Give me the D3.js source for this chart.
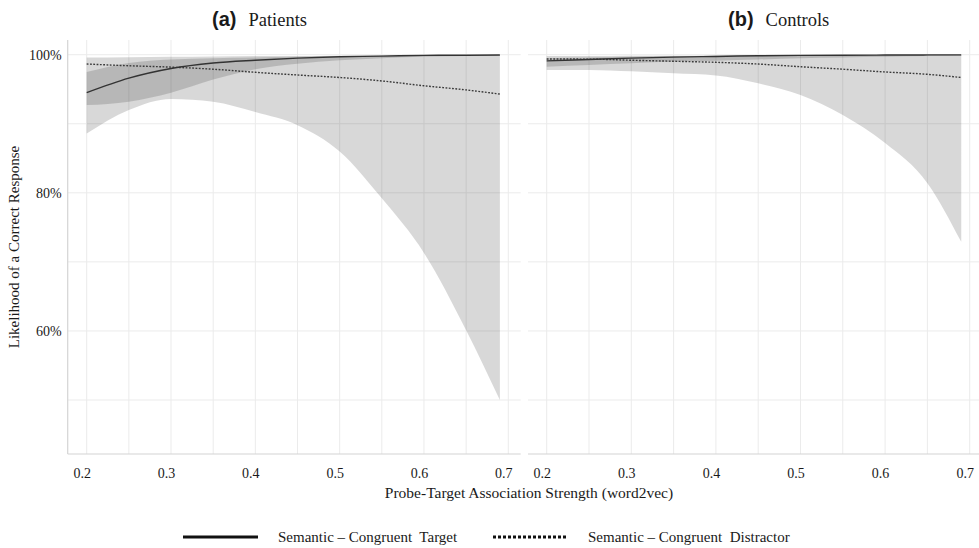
<!DOCTYPE html>
<html>
<head>
<meta charset="utf-8">
<script src="https://cdn.jsdelivr.net/npm/d3@7"></script>
<style>
  html, body { margin: 0; padding: 0; background: #ffffff; }
  svg { display: block; }
  text { font-family: "Liberation Serif", "Times New Roman", serif; fill: #1a1a1a; }
</style>
</head>
<body>
<svg id="chart" width="979" height="548"></svg>
<script>
// ---------------- data ----------------
const strength = [0.2, 0.25, 0.3, 0.35, 0.4, 0.45, 0.5, 0.55, 0.6, 0.65, 0.69];

// (a) Patients
const patTargetFit   = [0.945, 0.966, 0.980, 0.988, 0.992, 0.995, 0.997, 0.998, 0.999, 0.9993, 0.9995];
const patTargetLow   = [0.927, 0.932, 0.945, 0.964, 0.979, 0.987, 0.992, 0.995, 0.997, 0.998, 0.9985];
const patTargetHigh  = [0.975, 0.988, 0.993, 0.995, 0.996, 0.997, 0.998, 0.999, 0.9992, 0.9995, 0.9997];
const patDistrFit    = [0.9865, 0.984, 0.982, 0.979, 0.9745, 0.9706, 0.967, 0.962, 0.955, 0.949, 0.943];
const patDistrLow    = [0.886, 0.920, 0.936, 0.932, 0.917, 0.898, 0.860, 0.792, 0.713, 0.601, 0.500];
const patDistrHigh   = [0.996, 0.9965, 0.997, 0.9975, 0.998, 0.998, 0.9985, 0.999, 0.999, 0.9992, 0.9993];

// (b) Controls
const conTargetFit   = [0.991, 0.993, 0.995, 0.9965, 0.9975, 0.9985, 0.999, 0.9993, 0.9995, 0.9997, 0.9998];
const conTargetLow   = [0.9826, 0.985, 0.9875, 0.990, 0.9913, 0.993, 0.995, 0.996, 0.997, 0.998, 0.9985];
const conTargetHigh  = [0.995, 0.996, 0.997, 0.998, 0.9985, 0.999, 0.9993, 0.9995, 0.9996, 0.9997, 0.9998];
const conDistrFit    = [0.9938, 0.9936, 0.992, 0.9905, 0.989, 0.9865, 0.9826, 0.979, 0.975, 0.9716, 0.967];
const conDistrLow    = [0.978, 0.978, 0.976, 0.973, 0.970, 0.9586, 0.9416, 0.9127, 0.872, 0.814, 0.729];
const conDistrHigh   = [0.998, 0.998, 0.9985, 0.9985, 0.999, 0.999, 0.9992, 0.9993, 0.9994, 0.9995, 0.9995];

const xTicks = [0.2, 0.3, 0.4, 0.5, 0.6, 0.7];
const xMinor = [0.25, 0.35, 0.45, 0.55, 0.65];
const yTicks = [0.6, 0.8, 1.0];
const yMinor = [0.5, 0.7, 0.9];
const panelTitles = [["(a)", "Patients"], ["(b)", "Controls"]];
const legendLabels = ["Semantic \u2013 Congruent  Target", "Semantic \u2013 Congruent  Distractor"];
const xTitle = "Probe-Target Association Strength (word2vec)";
const yTitle = "Likelihood of a Correct Response";

// ---------------- layout ----------------
const svg = d3.select("#chart");
const plotTop = 40, plotBottom = 454;
const y = d3.scaleLinear().domain([0.4218, 1.0213]).range([plotBottom, plotTop]);

const panels = [
  { x: d3.scaleLinear().domain([0.17747, 0.71471]).range([67.7, 520.7]), leftAxis: true,
    title: panelTitles[0], titleX: 212,
    target: [patTargetFit, patTargetLow, patTargetHigh], distr: [patDistrFit, patDistrLow, patDistrHigh] },
  { x: d3.scaleLinear().domain([0.1779, 0.711]).range([528, 979]), leftAxis: false,
    title: panelTitles[1], titleX: 728,
    target: [conTargetFit, conTargetLow, conTargetHigh], distr: [conDistrFit, conDistrLow, conDistrHigh] }
];

const gridColor = "#ebebeb";
const axisColor = "#d4d4d4";

panels.forEach((p, pi) => {
  const g = svg.append("g");
  const [x0, x1] = p.x.range();

  // grid
  g.selectAll(".vg").data(xTicks.concat(xMinor)).join("line")
    .attr("x1", d => p.x(d)).attr("x2", d => p.x(d))
    .attr("y1", plotTop).attr("y2", plotBottom)
    .attr("stroke", gridColor).attr("stroke-width", 1);
  g.selectAll(".hg").data(yTicks.concat(yMinor)).join("line")
    .attr("x1", x0).attr("x2", x1)
    .attr("y1", d => y(d)).attr("y2", d => y(d))
    .attr("stroke", gridColor).attr("stroke-width", 1);

  // bands
  const area = d3.area()
    .x((d, i) => p.x(strength[i]))
    .y0(d => y(d[0])).y1(d => y(d[1]))
    .curve(d3.curveMonotoneX);
  [p.distr, p.target].forEach(s => {
    const pts = strength.map((_, i) => [s[1][i], s[2][i]]);
    g.append("path").attr("d", area(pts))
      .attr("fill", "#1a1a1a").attr("fill-opacity", 0.17);
  });

  // lines
  const line = d3.line()
    .x((d, i) => p.x(strength[i]))
    .y(d => y(d))
    .curve(d3.curveMonotoneX);
  g.append("path").attr("d", line(p.distr[0]))
    .attr("fill", "none").attr("stroke", "#3a3a3a").attr("stroke-width", 1.4)
    .attr("stroke-dasharray", "1.8,1.5");
  g.append("path").attr("d", line(p.target[0]))
    .attr("fill", "none").attr("stroke", "#333333").attr("stroke-width", 1.4);

  // axis lines
  g.append("line").attr("x1", x0).attr("x2", x1).attr("y1", plotBottom).attr("y2", plotBottom)
    .attr("stroke", axisColor).attr("stroke-width", 1.2);
  if (p.leftAxis) {
    g.append("line").attr("x1", x0).attr("x2", x0).attr("y1", plotTop).attr("y2", plotBottom)
      .attr("stroke", axisColor).attr("stroke-width", 1.2);
  }

  // x axis tick labels
  const xa = g.append("g").attr("transform", `translate(-5,${plotBottom})`)
    .call(d3.axisBottom(p.x).tickValues(xTicks).tickSize(0).tickPadding(14).tickFormat(d3.format(".1f")));
  xa.select(".domain").remove();
  xa.selectAll("text").style("font-family", "'Liberation Serif', serif").style("font-size", "14px").attr("fill", "#1a1a1a");

  if (p.leftAxis) {
    const ya = g.append("g").attr("transform", `translate(${x0},0)`)
      .call(d3.axisLeft(y).tickValues(yTicks).tickSize(0).tickPadding(6).tickFormat(d3.format(".0%")));
    ya.select(".domain").remove();
    ya.selectAll("text").style("font-family", "'Liberation Serif', serif").style("font-size", "14px").attr("fill", "#1a1a1a");
  }

  // panel title
  const t = svg.append("text").attr("x", p.titleX).attr("y", 26);
  t.append("tspan").text(p.title[0])
    .style("font-family", "'Liberation Sans', Arial, sans-serif").style("font-weight", "bold").style("font-size", "20px");
  t.append("tspan").attr("dx", 12).text(p.title[1]).style("font-size", "18.5px");
});

// axis titles
svg.append("text").attr("x", 529).attr("y", 498).attr("text-anchor", "middle")
  .style("font-size", "15.5px").text(xTitle);
svg.append("text").attr("transform", "translate(19,247) rotate(-90)").attr("text-anchor", "middle")
  .style("font-size", "15px").text(yTitle);

// legend
const legY = 537;
const leg = svg.append("g");
leg.append("line").attr("x1", 183).attr("x2", 258).attr("y1", legY).attr("y2", legY)
  .attr("stroke", "#111").attr("stroke-width", 3);
leg.append("text").attr("x", 278).attr("y", legY + 5).style("font-size", "15px")
  .style("white-space", "pre").text(legendLabels[0]);
leg.append("line").attr("x1", 493).attr("x2", 567).attr("y1", legY).attr("y2", legY)
  .attr("stroke", "#111").attr("stroke-width", 3).attr("stroke-dasharray", "3,2");
leg.append("text").attr("x", 588).attr("y", legY + 5).style("font-size", "15px")
  .style("white-space", "pre").text(legendLabels[1]);
</script>
</body>
</html>
